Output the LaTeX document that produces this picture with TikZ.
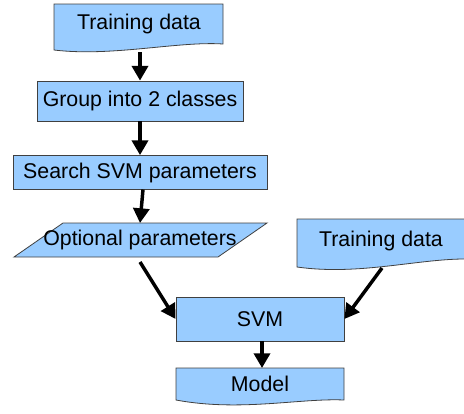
\documentclass[tikz,border=0pt]{standalone}
\usepackage{fontspec}
\setmainfont{Liberation Sans}
\usepackage{tikz}
\usetikzlibrary{arrows.meta}
\definecolor{boxblue}{HTML}{99CCFF}
\definecolor{edgegray}{HTML}{404040}
\tikzset{
  shapeline/.style={draw=edgegray, line width=0.6pt, fill=boxblue},
  boxnode/.style={shapeline, inner sep=0pt, font=\fontsize{16}{19}\selectfont},
  textnode/.style={inner sep=0.75pt, font=\fontsize{16}{19}\selectfont},
  flowarrow/.style={line width=2.6pt, -{Triangle[length=11pt,width=12pt]}}
}
\begin{document}
\begin{tikzpicture}[x=0.75pt,y=0.75pt,yscale=-1,xscale=1]
\clip (0,0) rectangle (464,414);

%Shape: Document [id:train1]
\draw [shapeline] (54,4) -- (223,4) -- (223,44) .. controls (178,41) and (112,57) .. (54,50) -- cycle ;
% Text Node
\node [textnode] (traintext) at (139,24) {Training data};
\coordinate (trainout) at (140,52);

%Shape: Rectangle [id:group]
\node [boxnode, minimum width=154.5pt, minimum height=30pt] (group) at (140,101) {Group into 2 classes};

%Shape: Rectangle [id:search]
\node [boxnode, minimum width=190.5pt, minimum height=25.5pt] (search) at (140,172.5) {Search SVM parameters};

%Shape: Parallelogram [id:optional]
\draw [shapeline] (63,223) -- (267,223) -- (218,257) -- (14,257) -- cycle ;
% Text Node
\node [textnode] (opttext) at (140,240) {Optional parameters};
\coordinate (optin) at (140,223);
\coordinate (optout) at (140,262);
\coordinate (searchout) at (143,189.5);

%Shape: Document [id:train2]
\draw [shapeline] (297,219) -- (470,219) -- (470,259) .. controls (420,258) and (360,276) .. (297,267) -- cycle ;
% Text Node
\node [textnode] (train2text) at (381,241) {Training data};
\coordinate (train2out) at (382,268);

%Shape: Rectangle [id:svm]
\node [boxnode, minimum width=126pt, minimum height=33pt] (svm) at (260,319) {SVM};
\coordinate (svmout) at (262,341);

%Shape: Document [id:model]
\draw [shapeline] (176,368) -- (344,368) -- (344,400) .. controls (300,398) and (240,412) .. (176,400) -- cycle ;
% Text Node
\node [textnode] (modeltext) at (260,384) {Model};
\coordinate (modelin) at (262,368);

% Arrows
\draw [flowarrow] (trainout) -- (group.north) ;
\draw [flowarrow] (group.south) -- (search.north) ;
\draw [flowarrow] (searchout) -- (optin) ;
\draw [flowarrow] (optout) -- (svm.west) ;
\draw [flowarrow] (train2out) -- (svm.east) ;
\draw [flowarrow] (svmout) -- (modelin) ;

\end{tikzpicture}
\end{document}
